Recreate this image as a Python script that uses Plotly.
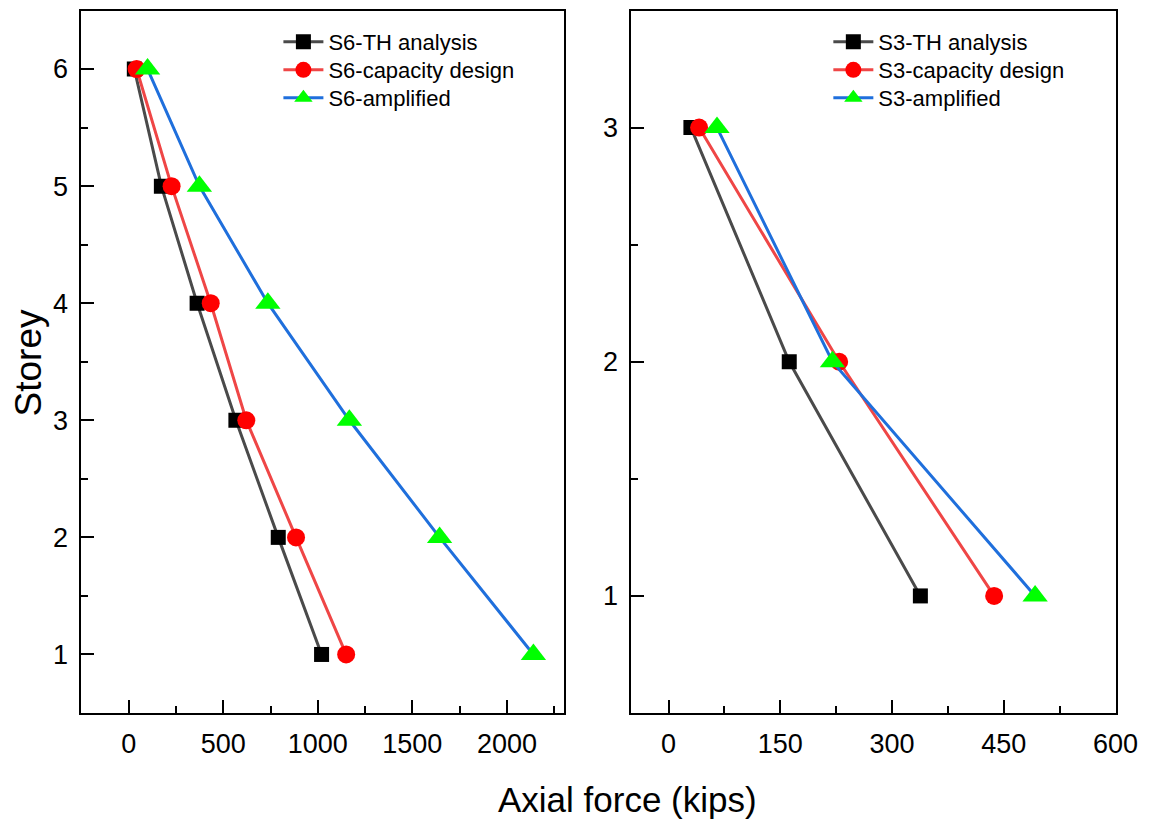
import plotly.graph_objects as go

# ---- data ----
storeys_s6 = [6, 5, 4, 3, 2, 1]
s6_th = [30, 173, 362, 567, 791, 1020]
s6_cap = [42, 227, 434, 622, 885, 1150]
s6_amp = [100, 374, 736, 1167, 1644, 2140]

storeys_s3 = [3, 2, 1]
s3_th = [30, 162, 338]
s3_cap = [41, 229, 437]
s3_amp = [65, 220, 492]

names_s6 = ["S6-TH analysis", "S6-capacity design", "S6-amplified"]
names_s3 = ["S3-TH analysis", "S3-capacity design", "S3-amplified"]

line_cols = ["#4a4a4a", "#ef4646", "#1f6fdc"]
mark_cols = ["#000000", "#ff0000", "#00ff00"]
symbols = ["square", "circle", "triangle-up"]
msizes = [15, 18, 22]

W, H = 1167, 826
fig = go.Figure()

legend_ids = ["legend", "legend2", "legend3", "legend4", "legend5", "legend6"]

for i, xs in enumerate([s6_th, s6_cap, s6_amp]):
    fig.add_trace(go.Scatter(
        x=xs, y=storeys_s6, mode="lines+markers", name=names_s6[i],
        line=dict(color=line_cols[i], width=3),
        marker=dict(symbol=symbols[i], size=msizes[i], color=mark_cols[i], line=dict(width=0)),
        xaxis="x", yaxis="y", legend=legend_ids[i],
    ))
for i, xs in enumerate([s3_th, s3_cap, s3_amp]):
    fig.add_trace(go.Scatter(
        x=xs, y=storeys_s3, mode="lines+markers", name=names_s3[i],
        line=dict(color=line_cols[i], width=3),
        marker=dict(symbol=symbols[i], size=msizes[i], color=mark_cols[i], line=dict(width=0)),
        xaxis="x2", yaxis="y2", legend=legend_ids[3 + i],
    ))

font_family = "Liberation Sans, Arial, sans-serif"
axis_common = dict(
    showline=True, linecolor="black", linewidth=2, mirror=True,
    ticks="inside", ticklen=13, tickwidth=2, tickcolor="black",
    showgrid=False, zeroline=False,
    tickfont=dict(family=font_family, size=27, color="black"),
    ticklabelstandoff=6,
)
minor_common = dict(ticks="inside", ticklen=7, tickwidth=2, tickcolor="black")

ydom = [1 - 713 / H, 1 - 10.5 / H]
leg_common = dict(xanchor="left", yanchor="middle", bgcolor="rgba(0,0,0,0)",
                  font=dict(family=font_family, size=22, color="black"),
                  tracegroupgap=0, itemwidth=40)
row_y = [42, 70, 98]
legends = {}
for i in range(3):
    legends[legend_ids[i]] = dict(x=284 / W, y=1 - row_y[i] / H, **leg_common)
    legends[legend_ids[3 + i]] = dict(x=845 / W, y=1 - row_y[i] / H, **leg_common)

fig.update_layout(
    width=W, height=H,
    margin=dict(l=0, r=0, t=0, b=0),
    paper_bgcolor="white", plot_bgcolor="rgba(0,0,0,0)",
    font=dict(family=font_family, color="black"),
    xaxis=dict(domain=[83 / W, 575 / W], range=[-250, 2300], tickvals=[0, 500, 1000, 1500, 2000],
               minor=dict(dtick=250, tick0=250, **minor_common), anchor="y", **axis_common),
    yaxis=dict(domain=ydom, range=[0.5, 6.5], tickvals=[1, 2, 3, 4, 5, 6],
               minor=dict(dtick=0.5, tick0=0.5, **minor_common), anchor="x", **axis_common),
    xaxis2=dict(domain=[644 / W, 1138 / W], range=[-50, 600], tickvals=[0, 150, 300, 450, 600],
                minor=dict(dtick=75, tick0=75, **minor_common), anchor="y2", **axis_common),
    yaxis2=dict(domain=ydom, range=[0.5, 3.5], tickvals=[1, 2, 3],
                minor=dict(dtick=0.5, tick0=0.5, **minor_common), anchor="x2", **axis_common),
    showlegend=True,
    **legends,
)

fig.add_annotation(text="Axial force (kips)", x=640 / W, y=1 - 799 / H, xref="paper", yref="paper",
                   xanchor="center", yanchor="middle",
                   showarrow=False, font=dict(family=font_family, size=35, color="black"))
fig.add_annotation(text="Storey", x=29 / W, y=1 - 363 / H, xref="paper", yref="paper", textangle=-90,
                   xanchor="center", yanchor="middle",
                   showarrow=False, font=dict(family=font_family, size=37, color="black"))

fig.write_html("out.html")
